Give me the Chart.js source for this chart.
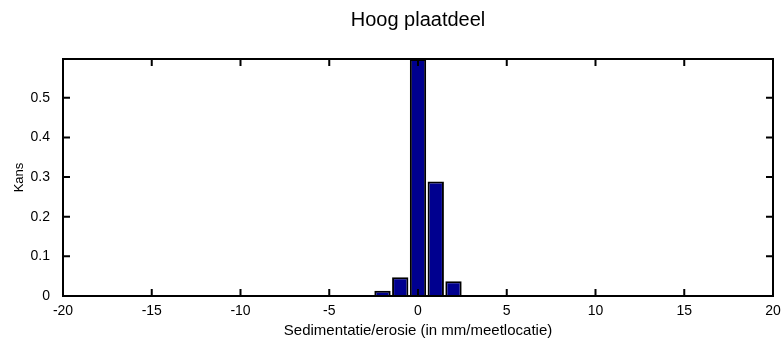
<!DOCTYPE html>
<html>
<head>
<meta charset="utf-8">
<script src="https://cdn.jsdelivr.net/npm/chart.js@4/dist/chart.umd.min.js"></script>
<style>
  body { margin: 0; background: #fff; }
  canvas { display: block; }
</style>
</head>
<body>
<canvas id="histChart" width="782" height="340"></canvas>
<script>
// Histogram data (bin centres in mm, probability per bin)
const binCenters = [-2, -1, 0, 1, 2];
const kans = [0.013, 0.047, 0.598, 0.289, 0.037];
const xTicks = [-20, -15, -10, -5, 0, 5, 10, 15, 20];
const yTicks = [0, 0.1, 0.2, 0.3, 0.4, 0.5];

const FONT = "'Liberation Sans', Arial, sans-serif";

// Black box round the plot with inward tick marks (matlab style)
const boxTicks = {
    id: 'boxTicks',
    afterDatasetsDraw(chart) {
        const { ctx, chartArea: a, scales: { x, y } } = chart;
        const len = 7;
        ctx.save();
        ctx.strokeStyle = '#000';
        ctx.lineWidth = 2;
        ctx.strokeRect(a.left, a.top, a.right - a.left, a.bottom - a.top);
        ctx.beginPath();
        xTicks.forEach(v => {
            const px = x.getPixelForValue(v);
            ctx.moveTo(px, a.bottom); ctx.lineTo(px, a.bottom - len);
            ctx.moveTo(px, a.top); ctx.lineTo(px, a.top + len);
        });
        yTicks.forEach(v => {
            const py = y.getPixelForValue(v);
            ctx.moveTo(a.left, py); ctx.lineTo(a.left + len, py);
            ctx.moveTo(a.right, py); ctx.lineTo(a.right - len, py);
        });
        ctx.stroke();
        ctx.restore();
    }
};

function initChart() {
    const ctx = document.getElementById('histChart').getContext('2d');
    new Chart(ctx, {
        type: 'bar',
        data: {
            datasets: [{
                data: binCenters.map((c, i) => ({ x: c, y: kans[i] })),
                backgroundColor: '#00008F',
                borderColor: '#000',
                borderWidth: 2,
                barPercentage: 0.92,
                categoryPercentage: 1
            }]
        },
        options: {
            responsive: false,
            animation: false,
            devicePixelRatio: 1,
            layout: { padding: { left: 0, right: 9, top: 0, bottom: 0 } },
            plugins: {
                legend: { display: false },
                tooltip: { enabled: false },
                title: {
                    display: true,
                    fullSize: false,
                    text: 'Hoog plaatdeel',
                    color: '#000',
                    font: { family: FONT, size: 20, weight: 'normal', lineHeight: 1.2 },
                    padding: { top: 8, bottom: 27 }
                }
            },
            scales: {
                x: {
                    type: 'linear',
                    min: -20,
                    max: 20,
                    offset: false,
                    afterBuildTicks: s => { s.ticks = xTicks.map(v => ({ value: v })); },
                    afterFit: s => { s.height = 44; s.paddingRight = 0; },
                    grid: { display: false, drawTicks: false },
                    border: { display: false },
                    ticks: {
                        color: '#000',
                        padding: 7,
                        maxRotation: 0,
                        font: { family: FONT, size: 14 },
                        callback: v => String(v)
                    },
                    title: {
                        display: true,
                        text: 'Sedimentatie/erosie (in mm/meetlocatie)',
                        color: '#000',
                        font: { family: FONT, size: 15, lineHeight: 1 },
                        padding: { top: 0, bottom: 2 }
                    }
                },
                y: {
                    min: 0,
                    max: 0.598,
                    afterBuildTicks: s => { s.ticks = yTicks.map(v => ({ value: v })); },
                    afterFit: s => { s.width = 63; },
                    grid: { display: false, drawTicks: false },
                    border: { display: false },
                    ticks: {
                        color: '#000',
                        padding: 13,
                        font: { family: FONT, size: 14 },
                        callback: v => String(v)
                    },
                    title: {
                        display: true,
                        text: 'Kans',
                        color: '#000',
                        font: { family: FONT, size: 13, lineHeight: 1.2 },
                        padding: { top: 12, bottom: 0 }
                    }
                }
            }
        },
        plugins: [boxTicks]
    });
}

document.addEventListener('DOMContentLoaded', initChart);
</script>
</body>
</html>
